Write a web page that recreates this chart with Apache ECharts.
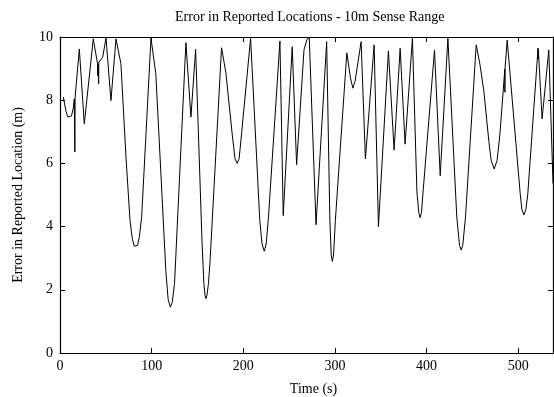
<!DOCTYPE html>
<html>
<head>
<meta charset="utf-8">
<script src="https://cdn.jsdelivr.net/npm/echarts@6/dist/echarts.min.js"></script>
<style>html,body{margin:0;padding:0;background:#fff}#c{width:554px;height:397px}</style>
</head>
<body>
<div id="c"></div>
<script>
const titleText = "Error in Reported Locations - 10m Sense Range";
const xName = "Time (s)";
const yName = "Error in Reported Location (m)";
const xTicks = [0, 100, 200, 300, 400, 500];
const yTicks = [0, 2, 4, 6, 8, 10];

const times = [
  3.6, 6.5, 8.5, 10.2, 12.5, 14.5, 15.6, 16.0, 16.2, 16.5, 21.1, 26.5, 36.3,
  41.0, 41.2, 41.4, 42.0, 42.2, 42.4, 46.6, 50.2, 55.6, 61.1, 66.5,
  72.0, 76.4, 79.0, 81.0, 82.6, 84.5, 86.5, 89.1, 99.3, 104.6,
  115.5, 118.0, 120.4, 122.5, 125.0, 137.4, 142.9, 148.0,
  155.0, 157.0, 158.3, 159.3, 160.5, 162.0, 163.6, 176.3, 181.0,
  188.0, 191.0, 193.4, 195.5, 198.0, 208.0,
  218.0, 220.5, 222.9, 225.0, 227.5, 240.0, 243.6, 253.4, 258.2,
  266.3, 269.6, 272.0, 279.4, 291.0,
  294.5, 296.0, 297.2, 298.5, 300.5, 313.0, 317.0, 319.6, 322.0, 328.6,
  333.3, 342.8, 347.5, 358.4, 364.6, 371.2, 376.6, 384.6,
  389.5, 391.5, 393.0, 394.5, 396.5, 408.7, 414.9, 423.3,
  433.0, 436.0, 437.8, 439.5, 442.5, 454.2, 458.2, 462.5,
  468.0, 470.5, 473.8, 477.0, 480.0, 485.4, 485.5, 485.6, 488.0,
  502.2, 504.0, 506.2, 508.5, 510.5, 521.7, 521.8, 522.0, 526.1, 533.4, 538.0
];
const errors = [
  8.10, 7.65, 7.47, 7.41, 7.50, 7.75, 8.04, 8.10, 6.36, 8.10, 9.62, 7.25, 9.94,
  9.15, 8.78, 9.15, 9.17, 8.52, 9.20, 9.36, 9.97, 7.99, 9.94, 9.15,
  6.20, 4.19, 3.60, 3.38, 3.35, 3.40, 3.65, 4.30, 9.96, 8.82,
  2.60, 1.70, 1.45, 1.60, 2.20, 9.82, 7.47, 9.61,
  3.50, 2.20, 1.82, 1.72, 1.85, 2.20, 2.82, 9.66, 8.87,
  6.90, 6.15, 6.00, 6.15, 6.90, 9.96,
  4.20, 3.45, 3.22, 3.45, 4.30, 9.87, 4.35, 9.69, 5.96,
  9.60, 9.93, 9.98, 4.06, 9.85,
  4.20, 3.10, 2.90, 3.10, 4.20, 9.50, 8.70, 8.38, 8.60, 9.85,
  6.14, 9.75, 4.00, 9.56, 6.42, 9.64, 6.61, 9.96,
  5.10, 4.45, 4.28, 4.45, 5.20, 9.59, 5.61, 9.96,
  4.30, 3.40, 3.26, 3.40, 4.30, 9.75, 9.15, 8.30,
  6.70, 6.10, 5.82, 6.10, 6.90, 8.98, 8.25, 8.98, 9.90,
  5.04, 4.55, 4.37, 4.55, 5.04, 9.65, 9.30, 9.60, 7.41, 9.59, 5.36
];

const seriesData = times.map((t, i) => [t, errors[i]]);
const serif = "'Liberation Serif', 'DejaVu Serif', serif";
const xMin = xTicks[0], xMax = 538, xStep = xTicks[1] - xTicks[0];
const yMin = yTicks[0], yMax = yTicks[yTicks.length - 1], yStep = yTicks[1] - yTicks[0];

function axisLine() { return { show: true, onZero: false, lineStyle: { color: '#000', width: 1.2 } }; }
function tick() { return { show: true, inside: true, length: 5, lineStyle: { color: '#000', width: 1 } }; }

const chart = echarts.init(document.getElementById('c'), null, { renderer: 'canvas' });
chart.setOption({
  animation: false,
  backgroundColor: '#fff',
  title: {
    text: titleText,
    left: 170, top: 5,
    textStyle: { fontFamily: serif, fontSize: 14, fontWeight: 'normal', color: '#000' }
  },
  grid: { left: 60, right: 1, top: 37, bottom: 44, containLabel: false, outerBoundsMode: 'none' },
  xAxis: [{
    type: 'value', min: xMin, max: xMax, interval: xStep, position: 'bottom',
    name: xName, nameLocation: 'middle', nameGap: 29,
    nameTextStyle: { fontFamily: serif, fontSize: 14, color: '#000', padding: [0, 0, 0, 14] },
    axisLine: axisLine(), axisTick: tick(), splitLine: { show: false },
    axisLabel: { fontFamily: serif, fontSize: 14, color: '#000', margin: 6, showMaxLabel: false }
  }, {
    type: 'value', min: xMin, max: xMax, interval: xStep, position: 'top',
    axisLine: axisLine(), axisTick: tick(), splitLine: { show: false },
    axisLabel: { show: false }
  }],
  yAxis: [{
    type: 'value', min: yMin, max: yMax, interval: yStep, position: 'left',
    name: yName, nameLocation: 'middle', nameGap: 35,
    nameTextStyle: { fontFamily: serif, fontSize: 14, color: '#000' },
    axisLine: axisLine(), axisTick: tick(), splitLine: { show: false },
    axisLabel: { fontFamily: serif, fontSize: 14, color: '#000', margin: 7 }
  }, {
    type: 'value', min: yMin, max: yMax, interval: yStep, position: 'right',
    axisLine: axisLine(), axisTick: tick(), splitLine: { show: false },
    axisLabel: { show: false }
  }],
  series: [{
    type: 'line', xAxisIndex: 0, yAxisIndex: 0,
    data: seriesData, showSymbol: false, symbol: 'none', clip: true,
    lineStyle: { color: '#000', width: 1 }
  }]
});
</script>
</body>
</html>
